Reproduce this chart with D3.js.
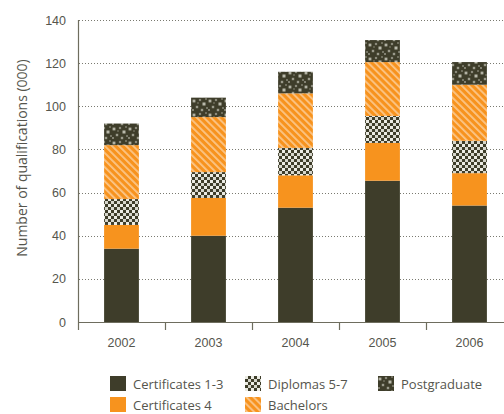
<!DOCTYPE html>
<html><head><meta charset="utf-8">
<script src="https://cdn.jsdelivr.net/npm/d3@7"></script>
<style>
body{margin:0;background:#fff;}
svg{display:block;font-family:"Open Sans",sans-serif;}
</style></head>
<body><svg id="c" width="504" height="414"></svg>
<script>
const years = ["2002","2003","2004","2005","2006"];
const cert13 = [34, 40, 53, 65.5, 54];
const cert4 = [11, 17.5, 15, 17.5, 15];
const diplomas = [12, 12, 12.7, 12.5, 15];
const bachelors = [25, 25.5, 25.3, 25, 26];
const postgrad = [10, 9, 10, 10.2, 10.5];
const seriesNames = ["Certificates 1-3","Certificates 4","Diplomas 5-7","Bachelors","Postgraduate"];
const yTicks = [0,20,40,60,80,100,120,140];

const DARK = "#3e3d2a", ORANGE = "#f7931e", TXT = "#55554d", AXIS = "#6e6d5e";
const svg = d3.select("#c");
const defs = svg.append("defs");

// Diplomas: checker of dark and light
const pd = defs.append("pattern").attr("id","pDip").attr("patternUnits","userSpaceOnUse")
  .attr("width",6).attr("height",6);
pd.append("rect").attr("width",6).attr("height",6).attr("fill",DARK);
pd.append("rect").attr("x",0).attr("y",0).attr("width",3).attr("height",3).attr("fill","#ecece4");
pd.append("rect").attr("x",3).attr("y",3).attr("width",3).attr("height",3).attr("fill","#d6d6cc");
// Bachelors: orange with light diagonal stripes
const pb = defs.append("pattern").attr("id","pBach").attr("patternUnits","userSpaceOnUse")
  .attr("width",5).attr("height",5).attr("patternTransform","rotate(-45)");
pb.append("rect").attr("width",5).attr("height",5).attr("fill",ORANGE);
pb.append("rect").attr("x",0).attr("y",0).attr("width",1.8).attr("height",5).attr("fill","#fbc689");
// Postgraduate: dark with speckles
const pp = defs.append("pattern").attr("id","pPost").attr("patternUnits","userSpaceOnUse")
  .attr("width",16).attr("height",14);
pp.append("rect").attr("width",16).attr("height",14).attr("fill",DARK);
[[2,3,1.4,0.75],[8,2,1.1,0.5],[12,6,1.5,0.8],[5,9,1.2,0.6],[1,12,1,0.45],[10,12,1.2,0.6],
 [14,1,0.9,0.4],[6,5,0.8,0.35],[15,10,0.9,0.45]].forEach(([cx,cy,r,o])=>{
  pp.append("rect").attr("x",cx-r).attr("y",cy-r).attr("width",2*r).attr("height",2*r)
    .attr("fill","#d8d8cc").attr("opacity",o);
});

const fills = [DARK, ORANGE, "url(#pDip)", "url(#pBach)", "url(#pPost)"];

const x = d3.scaleBand().domain(years).range([78, 513]).paddingInner(0.6).paddingOuter(0.3);
const y = d3.scaleLinear().domain([0,140]).range([322, 20]);

// gridlines
svg.append("g").selectAll("line").data(yTicks.filter(d=>d>0)).join("line")
  .attr("x1",79).attr("x2",504).attr("y1",d=>Math.round(y(d))+0.5).attr("y2",d=>Math.round(y(d))+0.5)
  .attr("stroke","#7a7a70").attr("stroke-width",1).attr("stroke-dasharray","1,2");

// stacked data
const rows = years.map((yr,i)=>({year:yr, s0:cert13[i], s1:cert4[i], s2:diplomas[i], s3:bachelors[i], s4:postgrad[i]}));
const stack = d3.stack().keys(["s0","s1","s2","s3","s4"])(rows);
svg.append("g").selectAll("g").data(stack).join("g")
  .attr("fill",(d,i)=>fills[i])
  .selectAll("rect").data(d=>d).join("rect")
  .attr("x",d=>x(d.data.year)).attr("width",x.bandwidth())
  .attr("y",d=>y(d[1])).attr("height",d=>y(d[0])-y(d[1]));

// y axis
const ya = svg.append("g").attr("transform","translate(78,0)")
  .call(d3.axisLeft(y).tickValues(yTicks).tickSize(0).tickPadding(12));
ya.select(".domain").remove();
ya.selectAll("text").attr("fill",TXT).style("font-size","12.5px");
svg.append("line").attr("x1",78.5).attr("x2",78.5).attr("y1",y(140)).attr("y2",330)
  .attr("stroke",AXIS).attr("stroke-width",1.2);

// x axis
svg.append("line").attr("x1",78).attr("x2",504).attr("y1",322.5).attr("y2",322.5)
  .attr("stroke",AXIS).attr("stroke-width",1.2);
const xa = svg.append("g").attr("transform","translate(0,322)")
  .call(d3.axisBottom(x).tickSize(0).tickPadding(16));
xa.select(".domain").remove();
xa.selectAll("text").attr("fill",TXT).style("font-size","12.5px");
svg.append("g").selectAll("line").data(years.slice(1)).join("line")
  .attr("x1",d=>Math.round(x(d)-x.step()*0.3)+0.5).attr("x2",d=>Math.round(x(d)-x.step()*0.3)+0.5)
  .attr("y1",322).attr("y2",330).attr("stroke",AXIS).attr("stroke-width",1.2);

// y label
svg.append("text").attr("transform","translate(27,158) rotate(-90)")
  .attr("text-anchor","middle").attr("fill",TXT).style("font-size","14px")
  .text("Number of qualifications (000)");

// legend
const legendPos = [[110,376],[110,397],[245,376],[245,397],[378,376]];
const lg = svg.append("g").selectAll("g").data(seriesNames).join("g")
  .attr("transform",(d,i)=>`translate(${legendPos[i][0]},${legendPos[i][1]})`);
lg.append("rect").attr("width",16).attr("height",15).attr("fill",(d,i)=>fills[i]);
lg.append("text").attr("x",23).attr("y",12.5).attr("fill",TXT).style("font-size","13px").text(d=>d);
</script></body></html>
